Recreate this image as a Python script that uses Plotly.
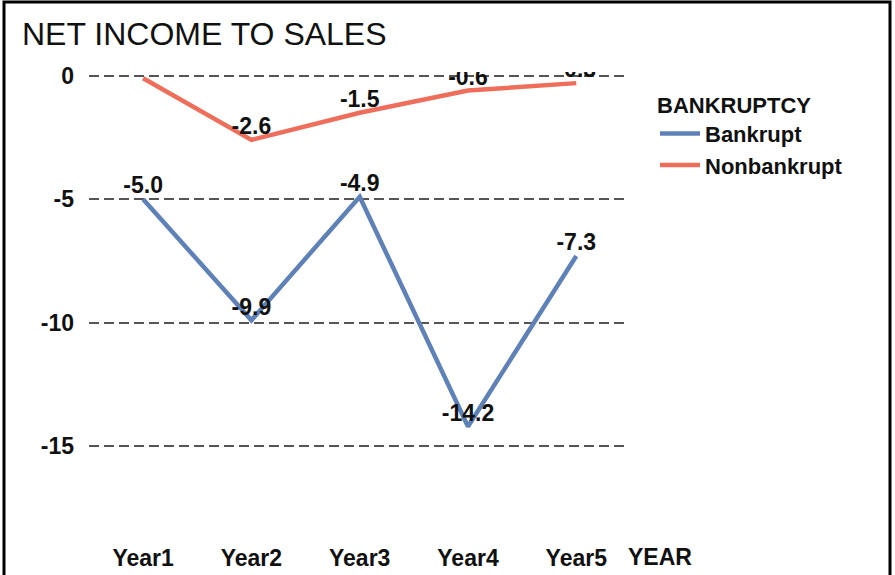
import plotly.graph_objects as go

years = ["Year1", "Year2", "Year3", "Year4", "Year5"]
bankrupt = [-5.0, -9.9, -4.9, -14.2, -7.3]
nonbankrupt = [-0.1, -2.6, -1.5, -0.6, -0.3]
y_ticks = [0, -5, -10, -15]

BLUE = "#5E82B8"
RED = "#EE6E5B"
FONT = "Liberation Sans, Arial, sans-serif"
INK = "#111111"

W, H = 895, 575
L, R, T, B = 89, 270, 72, 48

fig = go.Figure()
for name, vals, col in [("Bankrupt", bankrupt, BLUE), ("Nonbankrupt", nonbankrupt, RED)]:
    fig.add_trace(go.Scatter(
        x=years, y=vals, name=name, mode="lines+text",
        line=dict(color=col, width=4.5),
        text=[f"{v:.1f}" for v in vals],
        textposition="top center",
        textfont=dict(family=FONT, size=23, color=INK, weight="bold"),
        cliponaxis=True,
    ))

pw = W - L - R
ph = H - T - B


def px_x(p):
    return (p - L) / pw


def px_y(p):
    return (H - B - p) / ph


fig.add_annotation(
    text="<b>YEAR</b>", xref="paper", yref="paper",
    x=px_x(626), y=px_y(557), xanchor="left", yanchor="middle",
    showarrow=False, font=dict(family=FONT, size=23, color=INK),
)

# outer frame
fig.add_shape(type="rect", xref="paper", yref="paper",
              x0=px_x(4), x1=px_x(890), y0=px_y(600), y1=px_y(2),
              line=dict(color="black", width=3), layer="above")

fig.update_layout(
    width=W, height=H,
    margin=dict(l=L, r=R, t=T, b=B, autoexpand=False),
    paper_bgcolor="white", plot_bgcolor="white",
    title=dict(text="NET INCOME TO SALES", x=22 / W, xanchor="left",
               xref="container", y=1 - 34 / H, yanchor="middle", yref="container",
               font=dict(family=FONT, size=32, color=INK)),
    legend=dict(
        title=dict(text="<b>BANKRUPTCY</b>", font=dict(family=FONT, size=22, color=INK)),
        font=dict(family=FONT, size=22, color=INK, weight="bold"),
        xref="container", yref="container",
        x=655 / W, y=1 - 84 / H, xanchor="left", yanchor="top",
        tracegroupgap=0, itemwidth=40,
    ),
    showlegend=True,
    font=dict(family=FONT),
)

fig.update_xaxes(
    range=[-0.5, 4.45], showgrid=False, zeroline=False, showline=False,
    ticks="", ticklabelstandoff=15, automargin=False,
    tickfont=dict(family=FONT, size=23, color=INK, weight="bold"),
)
fig.update_yaxes(
    range=[-18.27, 0.15], tickvals=y_ticks, ticktext=[str(v) for v in y_ticks],
    showgrid=True, gridcolor="#555555", gridwidth=2, griddash="10px,5px",
    zeroline=False, showline=False, ticks="", ticklabelstandoff=14, automargin=False,
    tickfont=dict(family=FONT, size=23, color=INK, weight="bold"),
)

fig.write_html("out.html")
